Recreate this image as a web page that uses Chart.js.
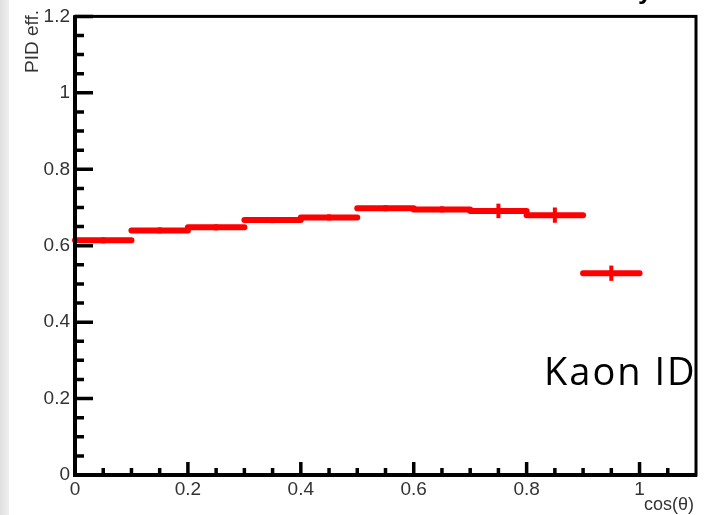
<!DOCTYPE html>
<html>
<head>
<meta charset="utf-8">
<script src="https://cdn.jsdelivr.net/npm/chart.js@4.4.1/dist/chart.umd.min.js"></script>
<style>
  html, body { margin: 0; padding: 0; background: #fff; }
  canvas { display: block; }
</style>
</head>
<body>
<canvas id="chart" width="704" height="515"></canvas>
<script>
// Kaon PID efficiency vs cos(theta), ROOT-style histogram look

const binCenters = [0.05, 0.15, 0.25, 0.35, 0.45, 0.55, 0.65, 0.75, 0.85, 0.95];
const binHalfWidths = [0.05, 0.05, 0.05, 0.05, 0.05, 0.05, 0.05, 0.05, 0.05, 0.05];
const efficiency = [0.614, 0.640, 0.648, 0.667, 0.674, 0.698, 0.695, 0.691, 0.680, 0.528];
const efficiencyErr = [0.008, 0.008, 0.008, 0.008, 0.008, 0.008, 0.008, 0.019, 0.02, 0.02];

const xTickValues = [0, 0.2, 0.4, 0.6, 0.8, 1];
const xTickLabels = ['0', '0.2', '0.4', '0.6', '0.8', '1'];
const yTickValues = [0, 0.2, 0.4, 0.6, 0.8, 1, 1.2];
const yTickLabels = ['0', '0.2', '0.4', '0.6', '0.8', '1', '1.2'];

const xTitle = 'cos(\u03b8)';
const yTitle = 'PID eff.';
const plotLabel = 'Kaon ID';

const RED = '#ff0000';
const labelFont = { family: 'Liberation Sans, Arial, sans-serif', size: 19 };

// minor ticks every 0.05 (skip the major ones)
function minorTicks(max, majors) {
    const out = [];
    for (let i = 1; i * 0.05 < max - 1e-6; i++) {
        const v = +(i * 0.05).toFixed(2);
        if (!majors.some(m => Math.abs(m - v) < 1e-6)) out.push(v);
    }
    return out;
}

// grey strip on the left edge of the canvas
const backgroundPlugin = {
    id: 'background',
    beforeDraw(chart) {
        const ctx = chart.ctx;
        ctx.save();
        ctx.fillStyle = '#fff';
        ctx.fillRect(0, 0, chart.width, chart.height);
        const g = ctx.createLinearGradient(0, 0, 9, 0);
        g.addColorStop(0, '#e0e0e0');
        g.addColorStop(1, '#efefef');
        ctx.fillStyle = g;
        ctx.fillRect(0, 0, 9, chart.height);
        ctx.restore();
    }
};

// error bars, text, frame and inward ticks
const rootStylePlugin = {
    id: 'rootStyle',
    afterDraw(chart) {
        const ctx = chart.ctx;
        const xs = chart.scales.x;
        const ys = chart.scales.y;
        const area = chart.chartArea;

        ctx.save();

        // histogram points with error bars
        ctx.strokeStyle = RED;
        binCenters.forEach((c, i) => {
            const py = ys.getPixelForValue(efficiency[i]);
            ctx.lineWidth = 6;
            ctx.lineCap = 'round';
            ctx.beginPath();
            ctx.moveTo(xs.getPixelForValue(c - binHalfWidths[i]), py);
            ctx.lineTo(xs.getPixelForValue(c + binHalfWidths[i]), py);
            ctx.stroke();

            const px = xs.getPixelForValue(c);
            ctx.lineWidth = 4;
            ctx.lineCap = 'butt';
            ctx.beginPath();
            ctx.moveTo(px, ys.getPixelForValue(efficiency[i] - efficiencyErr[i]));
            ctx.lineTo(px, ys.getPixelForValue(efficiency[i] + efficiencyErr[i]));
            ctx.stroke();
        });

        // big label
        ctx.fillStyle = '#000';
        ctx.font = '38px "Open Sans", "Noto Sans", sans-serif';
        ctx.textAlign = 'left';
        ctx.textBaseline = 'alphabetic';
        ctx.letterSpacing = '2px';
        ctx.fillText(plotLabel, 544, 385);
        ctx.letterSpacing = '0px';

        // frame: heavier on the axis sides
        ctx.strokeStyle = '#000';
        ctx.lineWidth = 3;
        ctx.strokeRect(area.left, area.top, area.right - area.left, area.bottom - area.top);
        ctx.lineWidth = 4;
        ctx.beginPath();
        ctx.moveTo(area.left, area.top - 1);
        ctx.lineTo(area.left, area.bottom);
        ctx.lineTo(area.right + 1, area.bottom);
        ctx.stroke();

        // inward ticks
        ctx.lineWidth = 3.5;
        ctx.beginPath();
        xTickValues.forEach(v => {
            const px = xs.getPixelForValue(v);
            ctx.moveTo(px, area.bottom);
            ctx.lineTo(px, area.bottom - 13);
        });
        minorTicks(1.1, xTickValues).forEach(v => {
            const px = xs.getPixelForValue(v);
            ctx.moveTo(px, area.bottom);
            ctx.lineTo(px, area.bottom - 7);
        });
        yTickValues.forEach(v => {
            const py = ys.getPixelForValue(v);
            ctx.moveTo(area.left, py);
            ctx.lineTo(area.left + 18, py);
        });
        minorTicks(1.2, yTickValues).forEach(v => {
            const py = ys.getPixelForValue(v);
            ctx.moveTo(area.left, py);
            ctx.lineTo(area.left + 9, py);
        });
        ctx.stroke();

        // axis titles
        ctx.fillStyle = '#333';
        ctx.font = '18px "Liberation Sans", Arial, sans-serif';
        ctx.textAlign = 'right';
        ctx.textBaseline = 'alphabetic';
        ctx.fillText(xTitle, 694, 510);

        ctx.save();
        ctx.font = '19px "Liberation Sans", Arial, sans-serif';
        ctx.translate(38, 10);
        ctx.rotate(-Math.PI / 2);
        ctx.textAlign = 'right';
        ctx.fillText(yTitle, 0, 0);
        ctx.restore();

        // clipped title descender at the very top
        ctx.fillStyle = '#000';
        ctx.font = 'bold 26px "Liberation Sans", Arial, sans-serif';
        ctx.textAlign = 'left';
        ctx.fillText('y', 638, -1);

        ctx.restore();
    }
};

new Chart(document.getElementById('chart'), {
    type: 'scatter',
    data: {
        datasets: [{
            label: 'Kaon',
            data: binCenters.map((c, i) => ({ x: c, y: efficiency[i] })),
            pointRadius: 0,
            showLine: false
        }]
    },
    options: {
        responsive: false,
        animation: false,
        devicePixelRatio: 1,
        layout: { padding: { top: 12, right: 8, left: 0, bottom: 0 } },
        plugins: {
            legend: { display: false },
            tooltip: { enabled: false }
        },
        scales: {
            x: {
                type: 'linear',
                min: 0,
                max: 1.1,
                grid: { display: false, drawTicks: false },
                border: { display: false },
                afterBuildTicks: s => { s.ticks = xTickValues.map(v => ({ value: v })); },
                afterFit: s => { s.height = 40; },
                ticks: {
                    font: labelFont,
                    color: '#333',
                    padding: 3,
                    maxRotation: 0,
                    callback: (v) => xTickLabels[xTickValues.indexOf(v)]
                }
            },
            y: {
                type: 'linear',
                min: 0,
                max: 1.2,
                grid: { display: false, drawTicks: false },
                border: { display: false },
                afterBuildTicks: s => { s.ticks = yTickValues.map(v => ({ value: v })); },
                afterFit: s => { s.width = 75; },
                ticks: {
                    font: labelFont,
                    color: '#333',
                    padding: 5,
                    callback: (v) => yTickLabels[yTickValues.indexOf(v)]
                }
            }
        }
    },
    plugins: [backgroundPlugin, rootStylePlugin]
});
</script>
</body>
</html>
